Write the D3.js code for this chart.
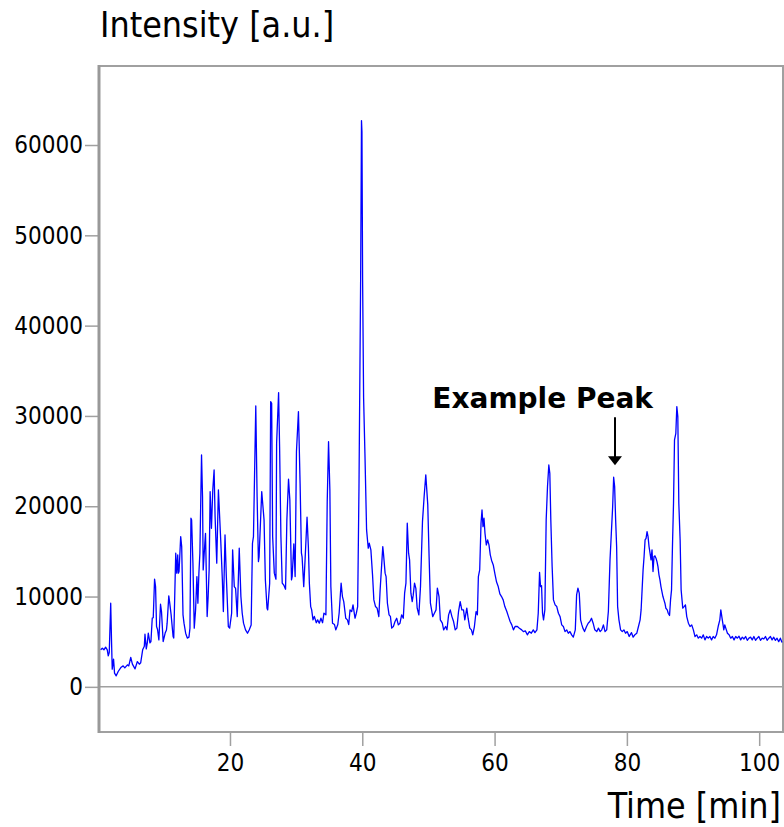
<!DOCTYPE html>
<html>
<head>
  <meta charset="utf-8">
  <script src="https://cdn.jsdelivr.net/npm/d3@7/dist/d3.min.js"></script>
  <style type="text/css">
    body {
      margin: 0;
      background: #fff;
    }
    .axis text {
      font-family: "DejaVu Sans Condensed", "DejaVu Sans", sans-serif;
      font-stretch: condensed;
      font-size: 24px;
      fill: #000;
    }
    .axis line {
      stroke: #a0a0a0;
      stroke-width: 1.5px;
    }
    .axis path {
      display: none;
    }
    .title {
      font-family: "DejaVu Sans Condensed", "DejaVu Sans", sans-serif;
      font-stretch: condensed;
      font-size: 35.5px;
    }
    .note {
      font-family: "DejaVu Sans", sans-serif;
      font-weight: bold;
      font-size: 28px;
    }
  </style>
</head>
<body>
  <script type="text/javascript">

  // retention time (min) and detector signal (a.u.)
  const times = [
    0.45, 0.7, 0.95, 1.2, 1.45, 1.6, 1.75, 1.97, 2.1, 2.2, 2.4, 2.55, 2.8, 3.1, 3.5, 3.85, 4.1, 4.5, 4.7, 5.0,
    5.25, 5.65, 6.0, 6.3, 6.5, 6.8, 7.05, 7.15, 7.35, 7.5, 7.65, 7.9, 8.05, 8.25, 8.4, 8.6, 8.75, 8.9, 9.05, 9.25,
    9.5, 9.65, 9.9, 10.2, 10.4, 10.5, 10.75, 10.9, 11.1, 11.4, 11.5, 11.8, 11.95, 12.1, 12.2, 12.3, 12.55, 12.7, 12.9, 13.05,
    13.3, 13.55, 13.8, 13.95, 14.1, 14.2, 14.4, 14.6, 14.8, 15.0, 15.15, 15.3, 15.45, 15.7, 15.85, 15.95, 16.2, 16.3, 16.55, 16.7,
    16.85, 17.0, 17.2, 17.4, 17.6, 17.75, 18.0, 18.25, 18.6, 18.85, 19.0, 19.25, 19.45, 19.75, 19.95, 20.25, 20.4, 20.65, 20.85, 21.1,
    21.4, 21.65, 21.85, 22.05, 22.35, 22.65, 22.9, 23.2, 23.4, 23.55, 23.9, 24.1, 24.3, 24.4, 24.8, 25.15, 25.35, 25.6, 25.7, 26.0,
    26.15, 26.3, 26.45, 26.7, 26.95, 27.05, 27.35, 27.5, 27.7, 27.9, 28.15, 28.4, 28.6, 28.85, 29.05, 29.3, 29.4, 29.65, 29.85, 30.05,
    30.35, 30.6, 30.8, 30.9, 31.15, 31.35, 31.65, 31.85, 32.0, 32.2, 32.35, 32.55, 32.75, 33.05, 33.25, 33.5, 33.75, 34.0, 34.2, 34.5,
    34.7, 34.9, 35.1, 35.25, 35.5, 35.8, 36.0, 36.3, 36.5, 36.8, 37.0, 37.2, 37.5, 37.75, 37.95, 38.15, 38.4, 38.6, 38.9, 39.1,
    39.3, 39.5, 39.75, 39.88, 39.95, 40.05, 40.2, 40.4, 40.65, 40.9, 41.05, 41.3, 41.55, 41.75, 42.0, 42.25, 42.5, 42.7, 43.1, 43.2,
    43.45, 43.6, 43.8, 44.05, 44.25, 44.45, 44.7, 44.95, 45.2, 45.45, 45.7, 45.95, 46.2, 46.4, 46.6, 46.8, 47.0, 47.15, 47.35, 47.55,
    47.7, 47.9, 48.1, 48.3, 48.55, 48.8, 49.1, 49.35, 49.6, 49.9, 50.1, 50.3, 50.65, 50.9, 51.15, 51.35, 51.6, 51.8, 52.1, 52.3,
    52.6, 52.8, 53.05, 53.3, 53.55, 53.8, 54.05, 54.3, 54.55, 54.8, 55.05, 55.3, 55.5, 55.8, 56.0, 56.25, 56.5, 56.7, 56.95, 57.2,
    57.4, 57.55, 57.75, 57.95, 58.1, 58.25, 58.4, 58.55, 58.75, 58.95, 59.15, 59.35, 59.55, 59.8, 60.05, 60.3, 60.55, 60.8, 61.05, 61.3,
    61.55, 61.85, 62.1, 62.35, 62.6, 62.85, 63.1, 63.45, 63.75, 64.1, 64.35, 64.65, 64.95, 65.25, 65.55, 65.85, 66.1, 66.4, 66.6, 66.8,
    66.95, 67.1, 67.25, 67.4, 67.6, 67.8, 68.0, 68.2, 68.35, 68.5, 68.7, 68.9, 69.15, 69.4, 69.65, 69.9, 70.15, 70.4, 70.65, 70.9,
    71.15, 71.4, 71.65, 71.9, 72.2, 72.4, 72.6, 72.8, 73.0, 73.2, 73.35, 73.6, 73.9, 74.15, 74.4, 74.65, 74.9, 75.15, 75.45, 75.7,
    75.95, 76.2, 76.45, 76.7, 76.95, 77.2, 77.45, 77.65, 77.85, 78.0, 78.15, 78.3, 78.45, 78.6, 78.8, 79.05, 79.3, 79.55, 79.8, 80.05,
    80.35, 80.7, 80.95, 81.2, 81.5, 81.75, 82.0, 82.15, 82.3, 82.45, 82.6, 82.75, 82.9, 83.05, 83.2, 83.35, 83.5, 83.65, 83.8, 83.95,
    84.1, 84.25, 84.4, 84.55, 84.7, 84.85, 85.0, 85.15, 85.3, 85.45, 85.6, 85.75, 85.9, 86.1, 86.25, 86.45, 86.6, 86.75, 86.9, 87.05,
    87.2, 87.4, 87.55, 87.7, 87.85, 88.05, 88.2, 88.45, 88.65, 88.85, 89.05, 89.3, 89.55, 89.8, 90.05, 90.3, 90.55, 90.8, 91.05, 91.3,
    91.55, 91.8, 92.05, 92.3, 92.55, 92.8, 93.05, 93.3, 93.55, 93.8, 94.05, 94.2, 94.35, 94.5, 94.65, 94.8, 94.95, 95.2, 95.45, 95.7,
    95.95, 96.2, 96.45, 96.7, 96.95, 97.2, 97.45, 97.7, 97.95, 98.2, 98.45, 98.7, 98.95, 99.2, 99.45, 99.7, 99.95, 100.2, 100.45, 100.7,
    100.95, 101.2, 101.45, 101.7, 101.95, 102.2, 102.45, 102.7, 102.95, 103.2, 103.45
  ];
  const intensity = [
    4100, 4280, 4100, 4390, 4100, 3430, 3800, 9260, 4870, 1960, 3070, 1520, 1220, 1700, 2140, 2320, 2100, 2440, 2320, 3250,
    2510, 1990, 2800, 2510, 2660, 4100, 4500, 5830, 4200, 4870, 5940, 4870, 5020, 7600, 7650, 11920, 11100, 6680, 6350, 5200,
    9150, 8300, 5020, 5950, 6300, 7050, 10070, 9250, 8000, 5570, 5400, 14800, 12590, 14610, 12590, 12780, 16640, 15530, 7970, 7050,
    5940, 5400, 5500, 6500, 18670, 18490, 13690, 6500, 8520, 12210, 9260, 12590, 14800, 25680, 21070, 12950, 15900, 17000, 7780, 10000,
    13000, 21620, 17560, 21810, 24020, 18850, 13690, 21810, 16270, 11840, 8340, 16820, 12200, 6680, 6500, 8150, 15170, 11100, 10900, 7780,
    15350, 10000, 8150, 7050, 6310, 5940, 6300, 6860, 15900, 16640, 31100, 21070, 13870, 14400, 21620, 18490, 11840, 8710, 8520, 11480,
    31590, 31400, 16640, 12590, 11920, 26980, 32580, 26600, 16640, 11480, 11250, 10810, 18490, 22990, 20700, 11840, 12200, 15830, 12210, 26050,
    30480, 22550, 14800, 14400, 11100, 14060, 18790, 15530, 11480, 8890, 8520, 7420, 7800, 7100, 7420, 7050, 7600, 7100, 8150, 7980,
    20510, 27150, 21810, 11100, 7050, 6900, 6310, 6900, 8150, 11480, 10000, 9440, 7600, 7420, 6900, 8520, 8340, 9080, 7600, 8150,
    8890, 22000, 45000, 62700, 61500, 45000, 32000, 25870, 17380, 15350, 15900, 15170, 12400, 9630, 8890, 8700, 7780, 10740, 15530, 14800,
    12590, 12200, 9260, 7970, 7800, 6500, 6680, 7230, 7600, 6860, 7050, 7970, 7600, 10370, 11480, 18120, 14800, 14060, 10370, 9440,
    10150, 11480, 10900, 8710, 7970, 11100, 18300, 21070, 23470, 20150, 14430, 9260, 7780, 8150, 8520, 10930, 10000, 7420, 7050, 6310,
    6680, 6310, 7970, 8520, 7780, 7230, 6310, 6500, 8340, 9440, 8520, 8520, 7420, 8710, 7600, 6500, 6310, 5760, 6680, 8340,
    7980, 12210, 12950, 18120, 19590, 17740, 18670, 17010, 15710, 16270, 15720, 14620, 14000, 13500, 12500, 11600, 11110, 10300, 10000, 9630,
    8890, 8340, 7780, 7230, 6860, 6310, 6680, 6680, 6500, 6310, 6120, 6200, 5760, 6120, 5940, 6310, 6000, 6310, 8150, 12660,
    11100, 11200, 8150, 7420, 8520, 18490, 22170, 24570, 23650, 18490, 13320, 9630, 9080, 8890, 8150, 7780, 6860, 6680, 6120, 6310,
    5940, 6120, 5760, 5500, 6310, 10180, 10930, 10370, 7420, 6860, 6500, 6120, 6680, 7050, 7230, 7600, 7050, 6310, 6120, 6500,
    6120, 6310, 6860, 6120, 6310, 8340, 14060, 17010, 19960, 23210, 22170, 18490, 15530, 8890, 7420, 6310, 6120, 6310, 5940, 6120,
    5580, 6000, 5500, 5760, 5940, 6680, 7420, 8520, 10740, 12950, 14430, 16270, 16450, 17190, 16640, 15530, 14800, 14060, 15170, 12770,
    14430, 14500, 14250, 13870, 13320, 12400, 11840, 11100, 10550, 10000, 9630, 9260, 8700, 8520, 8150, 7900, 9630, 10740, 15900, 20330,
    27340, 28080, 31030, 29920, 20330, 16270, 10740, 8710, 8890, 9080, 7780, 7050, 6680, 6860, 6310, 5570, 5760, 5390, 5580, 5390,
    5760, 5200, 5580, 5390, 5580, 5200, 5570, 5390, 5760, 6680, 7420, 8520, 7780, 7050, 6310, 6860, 6500, 5940, 5760, 5390,
    5570, 5200, 5570, 5390, 5600, 5200, 5500, 5300, 5570, 5150, 5390, 5500, 5200, 5570, 5150, 5390, 5570, 5150, 5390, 5300,
    5570, 5150, 5390, 5570, 5200, 5500, 5150, 5390, 5000, 5390, 4900
  ];

  const xTicks = [20, 40, 60, 80, 100];
  const yTicks = [0, 10000, 20000, 30000, 40000, 50000, 60000];
  const timeRange = [0.2, 103.6];
  const intensityRange = [-5000, 68750];

  // the peak that gets the arrow
  const markedPeak = {time: 78.2, value: 23210, label: 'Example Peak'};

  const margin = {top: 66, bottom: 95, left: 99, right: 1};
  const width = 784 - margin.left - margin.right;
  const height = 827 - margin.top - margin.bottom;

  const svg = d3.select('body').append('svg')
              .attr('width', width + margin.left + margin.right)
              .attr('height', height + margin.top + margin.bottom);

  const g = svg.append('g')
              .attr('transform', `translate(${margin.left},${margin.top})`);

  const xscale = d3.scaleLinear().domain(timeRange).range([0, width]);
  const yscale = d3.scaleLinear().domain(intensityRange).range([height, 0]);

  // axes
  const g_xaxis = g.append('g').attr('class', 'x axis')
      .attr('transform', `translate(0,${height})`)
      .call(d3.axisBottom(xscale).tickValues(xTicks).tickSize(14).tickPadding(8).tickFormat(d3.format('d')));
  const g_yaxis = g.append('g').attr('class', 'y axis')
      .call(d3.axisLeft(yscale).tickValues(yTicks).tickSize(14).tickPadding(2).tickFormat(d3.format('d')));

  // zero line
  g.append('line')
      .attr('x1', 0).attr('x2', width)
      .attr('y1', yscale(0)).attr('y2', yscale(0))
      .attr('stroke', '#a0a0a0').attr('stroke-width', 1.5);

  // frame
  g.append('rect')
      .attr('x', 0).attr('y', 0)
      .attr('width', width).attr('height', height)
      .attr('fill', 'none')
      .attr('stroke', '#a0a0a0').attr('stroke-width', 2);
  g.append('line')
      .attr('x1', 0).attr('x2', 0).attr('y1', -1).attr('y2', height + 1)
      .attr('stroke', '#999').attr('stroke-width', 3);

  // trace
  const points = times.map((t, i) => [t, intensity[i]]);
  const line = d3.line()
      .x((d) => xscale(d[0]))
      .y((d) => yscale(d[1]));
  g.append('path')
      .datum(points)
      .attr('d', line)
      .attr('fill', 'none')
      .attr('stroke', '#0000ff')
      .attr('stroke-width', 1.3)
      .attr('stroke-linejoin', 'round');

  // annotation
  const ax = xscale(markedPeak.time);
  const tipY = yscale(markedPeak.value) - 12;
  g.append('line')
      .attr('x1', ax).attr('x2', ax)
      .attr('y1', tipY - 48).attr('y2', tipY - 6)
      .attr('stroke', '#000').attr('stroke-width', 2);
  g.append('path')
      .attr('d', `M${ax - 7},${tipY - 9}L${ax + 7},${tipY - 9}L${ax},${tipY}Z`)
      .attr('fill', '#000');
  g.append('text')
      .attr('class', 'note')
      .attr('x', ax + 38).attr('y', tipY - 57)
      .attr('text-anchor', 'end')
      .text(markedPeak.label);

  // axis titles
  svg.append('text')
      .attr('class', 'title')
      .attr('x', 100).attr('y', 37)
      .text('Intensity [a.u.]');
  svg.append('text')
      .attr('class', 'title')
      .attr('x', 781).attr('y', 818)
      .attr('text-anchor', 'end')
      .text('Time [min]');

  </script>
</body>
</html>
